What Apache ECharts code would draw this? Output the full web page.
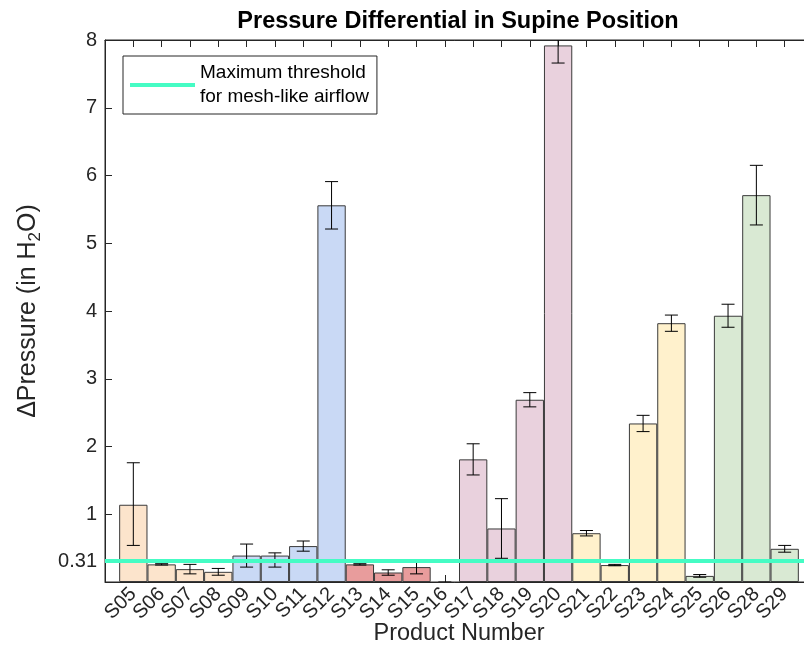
<!DOCTYPE html>
<html>
<head>
<meta charset="utf-8">
<script src="https://cdn.jsdelivr.net/npm/echarts@6/dist/echarts.min.js"></script>
<style>
  html, body { margin: 0; padding: 0; background: #fff; }
  #main { width: 804px; height: 669px; }
</style>
</head>
<body>
<div id="main"></div>
<script>
// product numbers, bar heights and error bar half-lengths
var products = ['S05','S06','S07','S08','S09','S10','S11','S12','S13','S14','S15','S16',
                'S17','S18','S19','S20','S21','S22','S23','S24','S25','S26','S28','S29'];
var pressure = [1.14, 0.26, 0.19, 0.15, 0.39, 0.39, 0.53, 5.56, 0.26, 0.14, 0.22, -0.01,
                1.81, 0.79, 2.69, 7.92, 0.72, 0.25, 2.34, 3.82, 0.09, 3.93, 5.71, 0.49];
var errUp   = [0.62, 0.01, 0.07, 0.05, 0.17, 0.04, 0.075, 0.35, 0.01, 0.04, 0.10, 0.01,
               0.23, 0.44, 0.105, 0.26, 0.04, 0.01, 0.12, 0.12, 0.02, 0.17, 0.44, 0.05];
var errDown = [0.60, 0.01, 0.07, 0.05, 0.17, 0.17, 0.075, 0.35, 0.01, 0.04, 0.10, 0.01,
               0.23, 0.44, 0.105, 0.26, 0.04, 0.01, 0.12, 0.12, 0.02, 0.17, 0.44, 0.05];
var threshold = 0.31;
var yTicks = [0.31, 1, 2, 3, 4, 5, 6, 7, 8];

// fill colour for each bar (product family)
var peach = '#fce4cc', blue = '#c9d9f5', red = '#e89c9c', mauve = '#e9d1dd',
    cream = '#fff1cc', green = '#d9e9d3';
var barColors = [peach, peach, peach, peach, blue, blue, blue, blue, red, red, red, red,
                 mauve, mauve, mauve, mauve, cream, cream, cream, cream, green, green, green, green];

var txt = '#262626';
var teal = '#45fcc4';
var font = 'Liberation Sans';
var legendName = 'Maximum threshold for mesh-like airflow';

var myChart = echarts.init(document.getElementById('main'));

var barData = pressure.map(function (v, i) {
    return { value: [i + 1, v], itemStyle: { color: barColors[i] } };
});
var errData = pressure.map(function (v, i) {
    return [i + 1, v - errDown[i], v + errUp[i]];
});

var option = {
    animation: false,
    textStyle: { fontFamily: font, color: txt },
    title: {
        text: 'Pressure Differential in Supine Position',
        left: 453, textAlign: 'center', top: 5,
        textStyle: { fontFamily: font, fontSize: 23.5, fontWeight: 'bold', color: '#000' }
    },
    legend: {
        left: 123, top: 56,
        orient: 'vertical',
        backgroundColor: '#fff',
        borderColor: txt, borderWidth: 1,
        padding: [5, 8, 5, 7],
        itemWidth: 65, itemHeight: 4, itemGap: 0,
        formatter: function (n) { return n.replace(' for', '\nfor'); },
        textStyle: { fontFamily: font, fontSize: 19, color: '#000', lineHeight: 24 },
        data: [{ name: legendName, icon: 'rect', itemStyle: { color: teal } }]
    },
    grid: {
        left: 105, right: -9, top: 40, bottom: 87,
        outerBoundsMode: 'none',
        show: true, borderColor: txt, borderWidth: 1, backgroundColor: 'transparent'
    },
    xAxis: [{
        type: 'value', min: 0, max: products.length + 1, interval: 1,
        name: 'Product Number', nameLocation: 'middle', nameGap: 40,
        nameMoveOverlap: false,
        nameTextStyle: { fontFamily: font, fontSize: 23.5, color: txt },
        axisLine: { show: true, lineStyle: { color: txt } },
        axisTick: { show: true, inside: true, length: 7, lineStyle: { color: txt } },
        splitLine: { show: false },
        axisLabel: {
            rotate: 45, margin: 9, fontFamily: font, fontSize: 20, color: txt,
            showMinLabel: true, showMaxLabel: true,
            formatter: function (v) { return products[v - 1] || ''; }
        }
    }, {
        type: 'value', position: 'top', min: 0, max: products.length + 1, interval: 1,
        axisLine: { show: true, lineStyle: { color: txt } },
        axisTick: { show: true, inside: true, length: 7, lineStyle: { color: txt } },
        axisLabel: { show: false }, splitLine: { show: false }
    }],
    yAxis: {
        type: 'value', min: 0, max: 8,
        name: '\u0394Pressure (in H{sub|2}O)', nameLocation: 'middle', nameGap: 61,
        nameMoveOverlap: false,
        nameTextStyle: {
            fontFamily: font, fontSize: 25, color: txt,
            rich: { sub: { fontFamily: font, fontSize: 17, color: txt, padding: [15, 0, 0, 0] } }
        },
        axisLine: { show: true, lineStyle: { color: txt } },
        axisTick: { show: true, inside: true, length: 7, customValues: yTicks, lineStyle: { color: txt } },
        axisLabel: { margin: 8, fontFamily: font, fontSize: 20, color: txt, customValues: yTicks },
        splitLine: { show: false }
    },
    series: [{
        type: 'bar',
        name: 'pressure',
        barWidth: '100%',
        itemStyle: { borderColor: '#3a3a3a', borderWidth: 1 },
        data: barData
    }, {
        type: 'custom',
        name: 'error',
        clip: true,
        data: errData,
        z: 3,
        renderItem: function (params, api) {
            var lo = api.coord([api.value(0), api.value(1)]);
            var hi = api.coord([api.value(0), api.value(2)]);
            var w = 6.5;
            var st = { stroke: '#000', lineWidth: 1 };
            return {
                type: 'group',
                children: [
                    { type: 'line', shape: { x1: lo[0], y1: lo[1], x2: hi[0], y2: hi[1] }, style: st },
                    { type: 'line', shape: { x1: lo[0] - w, y1: lo[1], x2: lo[0] + w, y2: lo[1] }, style: st },
                    { type: 'line', shape: { x1: hi[0] - w, y1: hi[1], x2: hi[0] + w, y2: hi[1] }, style: st }
                ]
            };
        }
    }, {
        type: 'line',
        name: legendName,
        symbol: 'none',
        data: [],
        color: teal,
        lineStyle: { width: 4, color: teal },
        z: 5,
        markLine: {
            silent: true, symbol: 'none',
            label: { show: false },
            lineStyle: { width: 4, type: 'solid', color: teal },
            data: [{ yAxis: threshold }]
        }
    }]
};
myChart.setOption(option);
</script>
</body>
</html>
